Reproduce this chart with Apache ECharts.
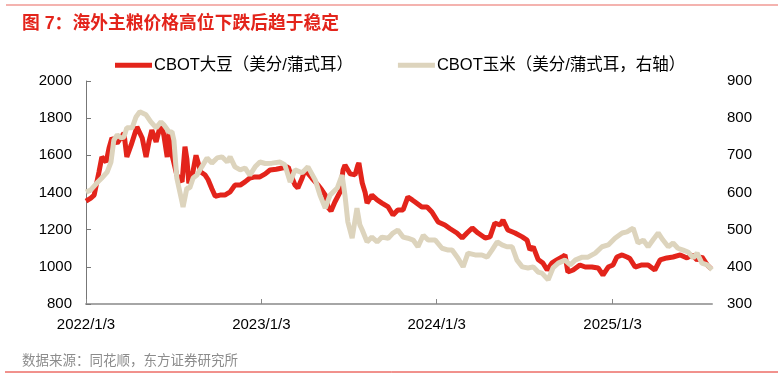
<!DOCTYPE html>
<html>
<head>
<meta charset="utf-8">
<script src="https://cdn.jsdelivr.net/npm/echarts@6/dist/echarts.min.js"></script>
<style>
html,body{margin:0;padding:0;background:#fff;}
#chart{width:782px;height:379px;}
</style>
</head>
<body>
<div id="chart"></div>
<script>
// ---- Data ----
const soyDates = ['2022-01-03','2022-01-13','2022-01-20','2022-01-30','2022-02-05','2022-02-14','2022-02-20','2022-02-26','2022-03-09','2022-03-23','2022-03-29','2022-04-07','2022-04-19','2022-04-30','2022-05-08','2022-05-14','2022-05-20','2022-05-29','2022-06-08','2022-06-14','2022-06-21','2022-06-25','2022-07-01','2022-07-11','2022-07-22','2022-07-28','2022-08-01','2022-08-05','2022-08-12','2022-08-20','2022-08-24','2022-08-30','2022-09-08','2022-09-14','2022-09-22','2022-09-29','2022-10-09','2022-10-19','2022-10-30','2022-11-09','2022-11-20','2022-11-30','2022-12-10','2022-12-21','2022-12-31','2023-01-11','2023-01-21','2023-02-03','2023-02-15','2023-02-28','2023-03-08','2023-03-14','2023-03-20','2023-03-29','2023-04-04','2023-04-18','2023-05-01','2023-05-09','2023-05-16','2023-05-22','2023-05-28','2023-06-05','2023-06-16','2023-06-22','2023-06-26','2023-07-07','2023-07-17','2023-07-23','2023-07-25','2023-08-01','2023-08-07','2023-08-11','2023-08-21','2023-09-01','2023-09-11','2023-09-24','2023-10-04','2023-10-14','2023-10-25','2023-11-04','2023-11-13','2023-11-19','2023-12-03','2023-12-14','2023-12-24','2024-01-06','2024-01-20','2024-01-31','2024-02-14','2024-02-25','2024-03-06','2024-03-17','2024-03-29','2024-04-13','2024-04-23','2024-05-03','2024-05-14','2024-05-20','2024-05-30','2024-06-14','2024-06-29','2024-07-09','2024-07-15','2024-07-22','2024-08-01','2024-08-11','2024-08-20','2024-08-30','2024-09-09','2024-09-20','2024-09-26','2024-10-02','2024-10-13','2024-10-27','2024-11-07','2024-11-21','2024-12-04','2024-12-14','2024-12-25','2025-01-04','2025-01-12','2025-01-23','2025-02-02','2025-02-08','2025-02-19','2025-03-05','2025-03-18','2025-04-01','2025-04-12','2025-04-26','2025-05-09','2025-05-24','2025-06-07','2025-06-18','2025-06-28','2025-07-08','2025-07-19','2025-07-27'];
const soyValues = [1354,1370,1386,1510,1591,1564,1640,1693,1666,1720,1591,1656,1753,1693,1591,1672,1736,1672,1774,1709,1591,1726,1602,1494,1457,1647,1580,1450,1490,1600,1610,1510,1494,1470,1420,1380,1386,1386,1403,1440,1440,1457,1478,1484,1484,1500,1521,1525,1532,1537,1478,1440,1424,1478,1521,1478,1440,1413,1386,1320,1300,1349,1403,1520,1548,1500,1495,1548,1559,1451,1400,1343,1386,1360,1343,1322,1279,1306,1306,1376,1360,1349,1322,1322,1295,1241,1225,1205,1182,1155,1182,1209,1182,1155,1161,1236,1225,1252,1198,1182,1161,1144,1091,1107,1040,1021,983,1021,1037,1053,1064,972,983,1010,999,999,994,956,999,1010,1053,1064,1053,1045,999,1010,1010,983,1037,1048,1053,1064,1048,1064,1037,1053,1010,990];

const cornDates = ['2022-01-03','2022-01-13','2022-01-26','2022-02-05','2022-02-16','2022-02-24','2022-03-02','2022-03-09','2022-03-17','2022-03-23','2022-03-29','2022-04-09','2022-04-17','2022-04-25','2022-05-08','2022-05-18','2022-05-29','2022-06-08','2022-06-14','2022-06-25','2022-07-01','2022-07-05','2022-07-11','2022-07-22','2022-07-24','2022-08-01','2022-08-07','2022-08-14','2022-08-22','2022-09-01','2022-09-12','2022-09-22','2022-10-03','2022-10-13','2022-10-24','2022-10-30','2022-11-09','2022-11-20','2022-11-30','2022-12-10','2022-12-21','2022-12-31','2023-01-11','2023-01-25','2023-02-11','2023-02-21','2023-03-04','2023-03-14','2023-03-29','2023-04-10','2023-04-25','2023-05-05','2023-05-16','2023-05-26','2023-06-10','2023-06-20','2023-06-26','2023-07-02','2023-07-11','2023-07-21','2023-07-27','2023-08-01','2023-08-11','2023-08-21','2023-09-01','2023-09-11','2023-09-24','2023-10-04','2023-10-14','2023-10-25','2023-11-04','2023-11-15','2023-11-25','2023-12-06','2023-12-16','2023-12-31','2024-01-14','2024-01-27','2024-02-04','2024-02-16','2024-02-27','2024-03-08','2024-03-23','2024-04-06','2024-04-17','2024-04-27','2024-05-08','2024-05-18','2024-05-28','2024-06-08','2024-06-18','2024-06-29','2024-07-11','2024-07-22','2024-08-01','2024-08-09','2024-08-22','2024-09-01','2024-09-12','2024-09-26','2024-10-07','2024-10-17','2024-11-01','2024-11-13','2024-11-28','2024-12-12','2024-12-25','2025-01-08','2025-01-23','2025-02-02','2025-02-08','2025-02-15','2025-02-25','2025-03-08','2025-03-18','2025-03-28','2025-04-08','2025-04-18','2025-04-29','2025-05-09','2025-05-19','2025-05-30','2025-06-09','2025-06-20','2025-06-28','2025-07-08','2025-07-19','2025-07-29'];
const cornValues = [601,607,626,639,655,682,741,755,747,749,774,774,803,817,809,790,774,790,782,763,763,740,639,574,561,612,612,639,647,669,693,679,693,696,682,696,669,661,666,647,669,682,678,679,682,674,628,661,653,669,634,593,558,593,612,647,593,521,477,558,513,499,467,480,467,480,477,491,499,480,477,472,454,485,472,472,450,445,445,424,400,437,432,432,426,445,467,459,454,454,418,400,397,400,386,383,365,397,410,418,405,418,426,426,437,454,459,477,491,494,499,504,464,472,454,472,491,472,454,464,450,445,440,424,437,410,405,392];

const tickDates = ['2022-01-03','2023-01-03','2024-01-03','2025-01-03'];
const tickLabels = ['2022/1/3','2023/1/3','2024/1/3','2025/1/3'];
const axisEndDate = '2025-07-29';

const soyName = 'CBOT大豆（美分/蒲式耳）';
const cornName = 'CBOT玉米（美分/蒲式耳，右轴）';
const titleText = '图 7：海外主粮价格高位下跌后趋于稳定';
const sourceText = '数据来源：同花顺，东方证券研究所';

// ---- helpers ----
const origin = Date.UTC(2022, 0, 3);
function toDay(s) {
  const p = s.split('-').map(Number);
  return Math.round((Date.UTC(p[0], p[1] - 1, p[2]) - origin) / 86400000);
}
const tickDays = tickDates.map(toDay);

const FONT = '"Liberation Sans", Arial, "Noto Sans CJK SC", sans-serif';
const RED = '#E3241B';
const BEIGE = '#DDD4BD';

const chart = echarts.init(document.getElementById('chart'), null, {renderer: 'canvas'});
chart.setOption({
  animation: false,
  backgroundColor: '#fff',
  textStyle: {fontFamily: FONT},
  title: [{
    text: titleText,
    left: 17, top: 10,
    textStyle: {color: '#E3241B', fontSize: 17.8, fontWeight: 'bold', fontFamily: FONT}
  }, {
    text: sourceText,
    left: 17, top: 350,
    textStyle: {color: '#8C8C8C', fontSize: 13.5, fontWeight: 'normal', fontFamily: FONT}
  }],
  graphic: [
    {type: 'line', shape: {x1: 6, y1: 5, x2: 778, y2: 5}, style: {stroke: '#F09A94', lineWidth: 1.5}},
    {type: 'line', shape: {x1: 5, y1: 372, x2: 778, y2: 372}, style: {stroke: '#E3241B', lineWidth: 1}}
  ],
  legend: {
    left: 110, top: 52,
    itemWidth: 37, itemHeight: 5, itemGap: 45,
    icon: 'rect',
    textStyle: {fontSize: 16.5, color: '#000', fontFamily: FONT, padding: [0, 0, 0, -3]},
    data: [soyName, cornName]
  },
  grid: {left: 86, right: 70, top: 81, bottom: 75, containLabel: false},
  xAxis: {
    type: 'value',
    min: 0, max: toDay(axisEndDate),
    splitLine: {show: false},
    axisLine: {show: true, lineStyle: {color: '#A6A6A6', width: 2}},
    axisTick: {show: true, inside: true, length: 5, lineStyle: {color: '#888'}, customValues: tickDays},
    axisLabel: {
      customValues: tickDays,
      color: '#000', fontSize: 15, margin: 13,
      formatter: function (v) { const i = tickDays.indexOf(v); return i >= 0 ? tickLabels[i] : ''; }
    }
  },
  yAxis: [{
    type: 'value', min: 800, max: 2000, interval: 200,
    splitLine: {show: false},
    axisLine: {show: true, lineStyle: {color: '#777', width: 1}},
    axisTick: {show: true, inside: true, length: 5, lineStyle: {color: '#777'}},
    axisLabel: {color: '#000', fontSize: 15, margin: 14, formatter: function (v) { return String(v); }}
  }, {
    type: 'value', min: 300, max: 900, interval: 100,
    splitLine: {show: false},
    axisLine: {show: false},
    axisTick: {show: false},
    axisLabel: {color: '#000', fontSize: 15, margin: 15, formatter: function (v) { return String(v); }}
  }],
  series: [{
    name: soyName, type: 'line', yAxisIndex: 0,
    showSymbol: false, symbol: 'none',
    color: RED,
    lineStyle: {color: RED, width: 5},
    data: soyDates.map((d, i) => [toDay(d), soyValues[i]])
  }, {
    name: cornName, type: 'line', yAxisIndex: 1,
    showSymbol: false, symbol: 'none',
    color: BEIGE,
    lineStyle: {color: BEIGE, width: 5},
    data: cornDates.map((d, i) => [toDay(d), cornValues[i]])
  }]
});
</script>
</body>
</html>
